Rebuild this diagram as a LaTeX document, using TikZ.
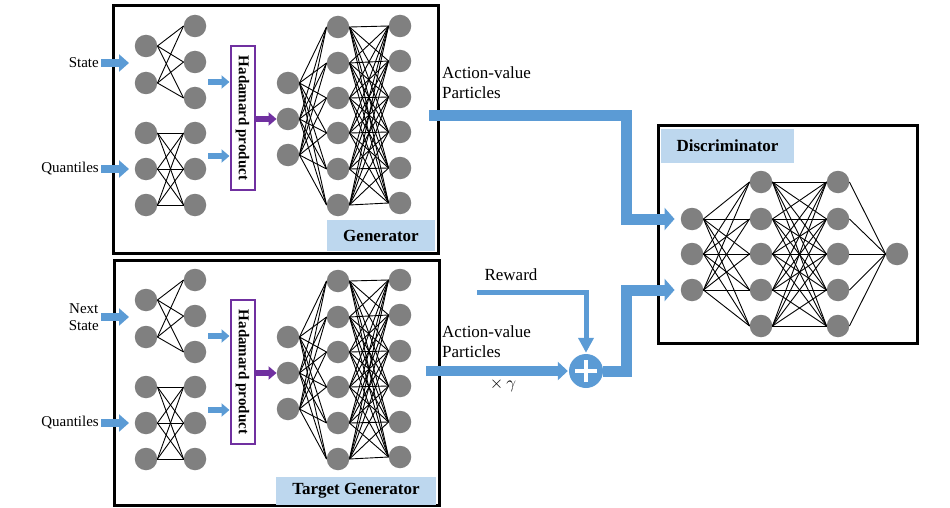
\documentclass[tikz,border=0pt]{standalone}
\usepackage{fontspec}
\setmainfont{Liberation Serif}
\usetikzlibrary{arrows.meta}
\definecolor{ablue}{HTML}{5B9BD5}
\definecolor{lblue}{HTML}{BDD7EE}
\definecolor{hpurple}{HTML}{7030A0}
\definecolor{ngray}{HTML}{808080}
\tikzset{
  neuron/.style={circle, fill=ngray, minimum size=22.5pt, inner sep=0pt},
  wire/.style={line width=0.9pt, black},
  frame/.style={draw=black, line width=3pt},
  inarrow/.style={draw=ablue, line width=8pt, -{Triangle[width=17pt,length=10pt]}},
  smallarrow/.style={draw=ablue, line width=6pt, -{Triangle[width=13pt,length=8pt]}},
  purparrow/.style={draw=hpurple, line width=6pt, -{Triangle[width=13pt,length=8pt]}},
  bigarrow/.style={draw=ablue, line width=11pt, line join=miter, -{Triangle[width=22pt,length=10pt]}},
  midarrow/.style={draw=ablue, line width=10pt, line join=miter, -{Triangle[width=18pt,length=10pt]}},
  rewarrow/.style={draw=ablue, line width=5pt, line join=miter, -{Triangle[width=15pt,length=15pt]}},
  hbox/.style={draw=hpurple, line width=2pt, fill=white, minimum width=24pt, minimum height=144pt, inner sep=0pt},
  lbl/.style={fill=lblue, inner sep=0pt, font=\fontsize{17}{20}\selectfont\bfseries},
  intext/.style={font=\fontsize{15}{18}\selectfont, inner sep=2pt, align=center},
  bigtext/.style={font=\fontsize{17}{20}\selectfont, inner sep=0pt, align=left},
}
\newcommand{\gennet}[2]{%
\begin{scope}[shift={(0,#2)}]
  \foreach \i/\y in {1/46,2/83} \node[neuron] (#1a\i) at (146,\y) {};
  \foreach \i/\y in {1/26,2/62,3/98} \node[neuron] (#1b\i) at (195,\y) {};
  \foreach \i/\y in {1/133,2/169,3/205} {
    \node[neuron] (#1c\i) at (146,\y) {};
    \node[neuron] (#1d\i) at (195,\y) {};
  }
  \foreach \i/\y in {1/83,2/119,3/155} \node[neuron] (#1e\i) at (288,\y) {};
  \foreach \i/\y in {1/27,2/63,3/98,4/133,5/169,6/205} \node[neuron] (#1f\i) at (338,\y) {};
  \foreach \i/\y in {1/26,2/61,3/97,4/132,5/168,6/203} \node[neuron] (#1g\i) at (400,\y) {};
  \foreach \i in {1,2} \foreach \j in {1,2,3} \draw[wire] (#1a\i.east) -- (#1b\j.west);
  \foreach \i in {1,2,3} \foreach \j in {1,2,3} \draw[wire] (#1c\i.east) -- (#1d\j.west);
  \foreach \i in {1,2,3} \foreach \j in {1,...,6} \draw[wire] (#1e\i.east) -- (#1f\j.west);
  \foreach \i in {1,...,6} \foreach \j in {1,...,6} \draw[wire] (#1f\i.east) -- (#1g\j.west);
  \node[hbox] (#1h) at (242.5,118) {};
  \node[rotate=-90, font=\fontsize{15}{18}\selectfont\bfseries] (#1ht) at (#1h) {Hadamard product};
  \coordinate (#1in1) at (208,82);
  \coordinate (#1in2) at (208,156);
  \draw[smallarrow] (#1in1) -- (#1h.west |- #1in1);
  \draw[smallarrow] (#1in2) -- (#1h.west |- #1in2);
  \draw[purparrow] (#1h.east |- #1e2) -- (#1e2.west);
\end{scope}}
\begin{document}
\begin{tikzpicture}[x=1pt,y=-1pt]
\useasboundingbox (0,0) rectangle (950,508);
% frames
\draw[frame] (113,6) rectangle (438,253);
\draw[frame] (114,260) rectangle (439,505.5);
\draw[frame] (658,126) rectangle (917,343);
% generators
\gennet{g}{0}
\gennet{t}{254}
% labels
\node[lbl, minimum width=108pt, minimum height=31pt] (genlbl) at (381,235.5) {Generator};
\node[lbl, minimum width=160pt, minimum height=28pt] (tgtlbl) at (356,491) {Target Generator};
\node[lbl, minimum width=133pt, minimum height=34pt] (dislbl) at (727.5,146) {Discriminator};
% inputs
\node[intext, anchor=east] (state) at (101,63) {State};
\draw[inarrow] (state.east) -- ++(28,0) coordinate (statetip);
\node[intext, anchor=east] (quant) at (101,169) {Quantiles};
\draw[inarrow] (quant.east) -- ++(28,0) coordinate (quanttip);
\node[intext, anchor=east] (nstate) at (101,317) {Next\\[-1pt]State};
\draw[inarrow] (nstate.east) -- ++(28,0) coordinate (nstatetip);
\node[intext, anchor=east] (tquant) at (101,423) {Quantiles};
\draw[inarrow] (tquant.east) -- ++(28,0) coordinate (tquanttip);
% discriminator
\foreach \i/\y in {1/219,2/254,3/290} \node[neuron] (d1\i) at (692,\y) {};
\foreach \i/\y in {1/182,2/219,3/254,4/290,5/326} {
  \node[neuron] (d2\i) at (761,\y) {};
  \node[neuron] (d3\i) at (838,\y) {};
}
\node[neuron] (dout) at (897,254) {};
\foreach \i in {1,2,3} \foreach \j in {1,...,5} \draw[wire] (d1\i.east) -- (d2\j.west);
\foreach \i in {1,...,5} \foreach \j in {1,...,5} \draw[wire] (d2\i.east) -- (d3\j.west);
\foreach \i in {1,...,5} \draw[wire] (d3\i.east) -- (dout.west);
% texts on right
\node[bigtext, anchor=west] (avp1) at (442,83) {Action-value\\Particles};
\node[bigtext, anchor=west] (avp2) at (442,341.5) {Action-value\\Particles};
\node[bigtext] (reward) at (511,275) {Reward};
\node[font=\fontsize{19}{22}\selectfont, inner sep=0pt] (gamma) at (503,385) {$\times\,\gamma$};
% plus
\node[circle, fill=ablue, minimum size=34pt, inner sep=0pt] (plus) at (586,371) {};
\draw[white, line width=4pt] ([xshift=-11pt]plus.center) -- ([xshift=11pt]plus.center);
\draw[white, line width=4pt] ([yshift=-11pt]plus.center) -- ([yshift=11pt]plus.center);
% connectors
\coordinate (gout) at (429,115.5);
\coordinate (tout) at (426,371);
\coordinate (rw) at (477,292);
\draw[bigarrow, shorten >=6pt] (gout) -- (626,115.5) |- (d11.west);
\draw[midarrow, shorten >=1pt] (tout) -- (plus.west);
\draw[bigarrow, shorten >=6pt] (plus.east) -- ++(23,0) |- (d13.west);
\draw[rewarrow, shorten >=1pt] (rw) -| (plus.north);
\end{tikzpicture}
\end{document}
